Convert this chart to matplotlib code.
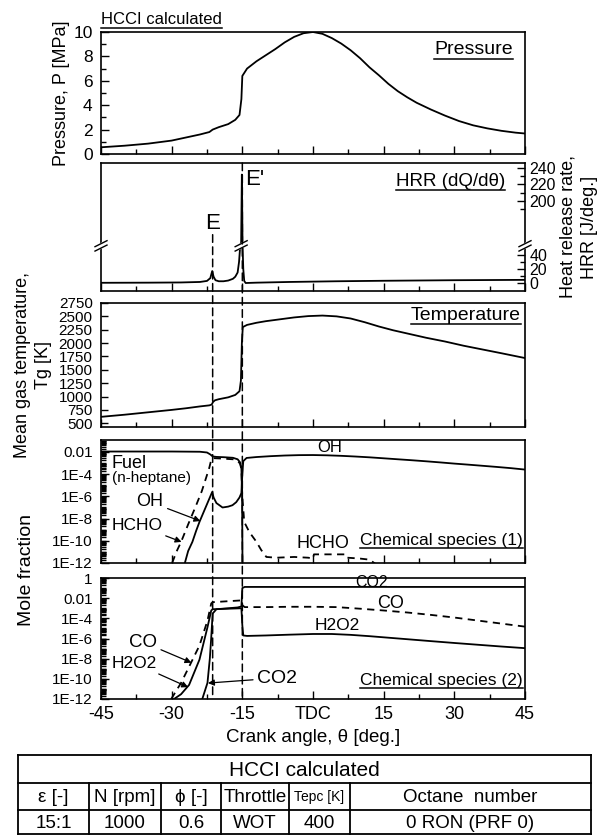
import numpy as np
import matplotlib.pyplot as plt
from matplotlib.patches import ConnectionPatch
from matplotlib.ticker import FixedLocator, FixedFormatter, LogLocator, NullFormatter, MultipleLocator

plt.rcParams['font.family'] = ['Liberation Sans', 'DejaVu Sans']
plt.rcParams['axes.linewidth'] = 1.2
plt.rcParams['xtick.direction'] = 'in'
plt.rcParams['ytick.direction'] = 'in'

W, H = 602, 835

# ignition events (crank angle, deg.)
theta_E = -21.3
theta_E2 = -15.0

x_major = [-45, -30, -15, 0, 15, 30, 45]
x_labels = ['-45', '-30', '-15', 'TDC', '15', '30', '45']

# pressure [MPa]
p_theta = [-45, -40, -35, -30, -27, -24, -22, -21.3, -20, -18, -16.5, -15.6, -15.2, -15, -14, -12, -10,
           -8, -6, -4, -2, 0, 2, 4, 6, 8, 10, 12, 14, 16, 18, 20, 22, 25, 28, 31, 34, 37, 40, 43, 45]
p_val = [0.55, 0.68, 0.85, 1.1, 1.35, 1.6, 1.8, 2.0, 2.2, 2.45, 2.8, 3.2, 4.5, 6.4, 7.0, 7.6, 8.1,
         8.6, 9.15, 9.6, 9.9, 10.0, 9.85, 9.5, 9.05, 8.5, 7.85, 7.1, 6.45, 5.75, 5.15, 4.65, 4.2,
         3.65, 3.15, 2.7, 2.35, 2.1, 1.9, 1.75, 1.68]

# heat release rate [J/deg.]
hrr_theta = [-45, -35, -28, -24, -22.5, -21.8, -21.4, -21.1, -20.7, -20, -19, -18, -17, -16.5, -16,
             -15.7, -15.45, -15.25, -15.1, -14.95, -14.8, -14.6, -14.3, -12, -5, 5, 15, 30, 45]
hrr_val = [0.3, 0.5, 0.8, 1.5, 3, 7, 17, 9, 4, 2.5, 2.5, 3.5, 6, 9, 15,
           30, 60, 150, 232, 100, 20, 3, 0, 0.5, 1.5, 2.5, 3.2, 4, 4.5]

# mean gas temperature [K]
t_theta = [-45, -40, -35, -30, -27, -24, -22, -21.5, -21.2, -20.8, -20, -18, -16.5, -15.6, -15.3, -15.1,
           -14.9, -14, -12, -10, -7, -4, -1, 2, 5, 8, 11, 14, 17, 20, 24, 28, 32, 36, 40, 45]
t_val = [620, 660, 705, 750, 780, 815, 835, 850, 900, 930, 950, 985, 1030, 1100, 1300, 2000,
         2300, 2340, 2380, 2410, 2445, 2480, 2505, 2515, 2500, 2460, 2390, 2310, 2240, 2180, 2100,
         2030, 1950, 1880, 1810, 1720]

# chemical species (1): mole fractions
fuel_theta = [-45, -30, -24, -22.5, -21.8, -21.3, -20.5, -19, -17, -16, -15.5, -15.2, -15.05, -14.95]
fuel_val = [1.1e-2, 1.1e-2, 1.05e-2, 9e-3, 6e-3, 4e-3, 3.6e-3, 3.4e-3, 3e-3, 2.2e-3, 1.2e-3, 4e-4, 1e-6, 1e-13]

oh_theta = [-27.2, -26.5, -25.6, -24.8, -24.1, -23.2, -22.5, -21.8, -21.4, -21.1, -20.5, -19.2, -18, -17.1,
            -16.3, -15.6, -15.2, -15.0, -14.8, -14.1, -12, -9, -6, -3, 0, 3, 6, 9, 12, 15, 18, 21, 24,
            27, 30, 33, 36, 39, 42, 45]
oh_val = [1e-12, 1.2e-11, 8e-11, 8e-10, 5e-9, 4e-8, 2e-7, 1e-6, 2.5e-6, 8e-7, 2.5e-7, 1e-7, 1.2e-7, 1.6e-7,
          3e-7, 8e-7, 2e-6, 1e-4, 1.5e-3, 2.9e-3, 3.5e-3, 4.2e-3, 4.8e-3, 5.2e-3, 5.3e-3, 5e-3, 4.5e-3,
          3.9e-3, 3.3e-3, 2.7e-3, 2.2e-3, 1.8e-3, 1.45e-3, 1.15e-3, 9e-4, 7.2e-4, 5.7e-4, 4.5e-4,
          3.5e-4, 2.6e-4]

hcho_theta = [-29.9, -29, -28, -26.5, -24.8, -23.6, -22.7, -22, -21.6, -21.3, -19, -17, -16, -15.5, -15.2,
              -15.0, -14.6, -13.5, -12, -11, -9.9, -7.8, -4, -1, 0, 0.2, 7, 7.3, 10, 12, 14]
hcho_val = [1e-12, 1e-11, 8e-11, 3e-9, 1.6e-7, 3e-6, 4.6e-5, 4e-4, 2e-3, 2.8e-3, 2.5e-3, 2.2e-3, 1.6e-3,
            9e-4, 3e-4, 1e-6, 5e-9, 6e-10, 8e-11, 1.5e-11, 3.5e-12, 3e-12, 3.5e-12, 3e-12, 2.5e-12,
            6e-12, 6e-12, 3e-12, 2.5e-12, 2e-12, 5e-13]

# chemical species (2): mole fractions
co2_theta = [-23.5, -22.4, -21.9, -21.6, -21.3, -20.5, -18, -16, -15.2, -15.0, -14.5, 0, 15, 30, 45]
co2_val = [1e-12, 4e-11, 1e-8, 1.3e-6, 3e-4, 8e-4, 1e-3, 1.2e-3, 1.5e-3, 0.1, 0.13, 0.13, 0.13, 0.13, 0.13]

co_theta = [-30.1, -28, -26.3, -24.1, -22.4, -21.6, -21.3, -18, -15.2, -15.0, -14.5, -10, -5, 0, 5, 10,
            15, 20, 25, 30, 35, 40, 45]
co_val = [1e-12, 4e-11, 1.6e-9, 2e-7, 6e-5, 3e-3, 4e-3, 5e-3, 6e-3, 2e-3, 1.3e-3, 1.3e-3, 1.4e-3,
          1.4e-3, 1.3e-3, 9e-4, 6e-4, 3.8e-4, 2.2e-4, 1.2e-4, 6e-5, 3e-5, 1.5e-5]

h2o2_theta = [-29.5, -28, -26.3, -24.1, -22.4, -21.6, -21.3, -18, -15.2, -15.0, -14.8, -14, -10, -5, 0,
              4, 8, 12, 16, 20, 25, 30, 35, 40, 45]
h2o2_val = [1e-12, 3e-12, 2.5e-11, 8e-9, 1.3e-5, 6e-4, 8e-4, 9e-4, 1e-3, 2e-5, 2e-6, 1.8e-6, 2e-6,
            2.4e-6, 2.8e-6, 2.8e-6, 2.3e-6, 1.7e-6, 1.2e-6, 8.5e-7, 5.5e-7, 3.6e-7, 2.4e-7, 1.6e-7, 1.1e-7]

# engine conditions table
table_title = "HCCI calculated"
table_head = ["ε [-]", "N [rpm]", "ϕ [-]", "Throttle", "Tepc [K]", "Octane  number"]
table_vals = ["15:1", "1000", "0.6", "WOT", "400", "0 RON (PRF 0)"]


fig = plt.figure(figsize=(W / 100, H / 100), dpi=100)


def panel(top, bottom):
    return fig.add_axes([101 / W, 1 - bottom / H, (525 - 101) / W, (bottom - top) / H])


def setup_x(ax, labels=False):
    ax.set_xlim(-45, 45)
    ax.xaxis.set_major_locator(FixedLocator(x_major))
    ax.xaxis.set_minor_locator(MultipleLocator(7.5))
    ax.tick_params(axis='x', which='major', length=6, width=1, top=False, labelbottom=labels,
                   labelsize=13, pad=5)
    ax.tick_params(axis='x', which='minor', length=3.5, width=1, top=False)
    if labels:
        ax.xaxis.set_major_formatter(FixedFormatter(x_labels))


ax_p = panel(32, 154)
ax_h = panel(163, 291)
ax_t = panel(303, 427)
ax_s1 = panel(440, 563)
ax_s2 = panel(578, 699)
for ax in (ax_p, ax_h, ax_t, ax_s1):
    setup_x(ax)
setup_x(ax_s2, labels=True)

# pressure
ax_p.plot(p_theta, p_val, color='k', lw=1.3)
ax_p.set_ylim(0, 10)
ax_p.yaxis.set_major_locator(MultipleLocator(2))
ax_p.yaxis.set_minor_locator(MultipleLocator(1))
ax_p.tick_params(axis='y', which='major', length=6, width=1, right=False, labelsize=12.5, pad=6)
ax_p.tick_params(axis='y', which='minor', length=3.5, width=1, right=False)

# heat release rate on a broken axis: 0-53 below the break, 146 and up above it
LOW_TOP, HIGH_BOT, HIGH_REF, HIGH_POS, HIGH_K = 53.0, 146.0, 200.0, 117.0, 1.18


def hrr_fwd(v):
    v = np.asarray(v, dtype=float)
    return np.where(v <= LOW_TOP, v,
                    np.where(v >= HIGH_BOT, HIGH_POS + (v - HIGH_REF) * HIGH_K, LOW_TOP))


def hrr_inv(d):
    d = np.asarray(d, dtype=float)
    return np.where(d <= LOW_TOP, d, HIGH_REF + (d - HIGH_POS) / HIGH_K)


ax_h.set_yscale('function', functions=(hrr_fwd, hrr_inv))
ax_h.plot(hrr_theta, hrr_val, color='k', lw=1.3)
ax_h.set_ylim(-11.4, 246)
ax_h.yaxis.set_major_locator(FixedLocator([0, 20, 40, 200, 220, 240]))
ax_h.yaxis.set_major_formatter(FixedFormatter(['0', '20', '40', '200', '220', '240']))
ax_h.yaxis.set_minor_locator(FixedLocator([10, 30, 50, 190, 210, 230]))
ax_h.yaxis.set_minor_formatter(NullFormatter())
ax_h.tick_params(axis='y', which='both', left=False, right=True, labelleft=False, labelright=True)
ax_h.tick_params(axis='y', which='major', length=6, width=1, labelsize=11.5, pad=3)
ax_h.tick_params(axis='y', which='minor', length=3.5, width=1)
xy_h = ax_h.get_xaxis_transform()
ax_h.text(theta_E, 0.53, "E", transform=xy_h, ha='center', va='center', fontsize=16)
ax_h.text(-14.4, 0.87, "E'", transform=xy_h, ha='left', va='center', fontsize=16)


def break_mark(ax, xc, yc):
    # "//" symbol across a spine or line, in axes fraction
    bb = ax.get_position()
    sx = 1 / (bb.width * W)
    sy = 1 / (bb.height * H)
    dx, dy = 6 * sx, 3 * sy
    ax.plot([xc - dx, xc + dx], [yc - dy, yc + dy], transform=ax.transAxes, color='w', lw=4,
            clip_on=False, zorder=5, solid_capstyle='butt')
    for off in (-2.2, 2.2):
        ax.plot([xc - dx, xc + dx], [yc - dy + off * sy, yc + dy + off * sy], transform=ax.transAxes,
                color='k', lw=1, clip_on=False, zorder=6)


lo, hi = ax_h.transScale.transform([[0, -11.4], [0, 246]])[:, 1]
yb = (LOW_TOP - lo) / (hi - lo)
break_mark(ax_h, 0, yb)
break_mark(ax_h, 1, yb)
break_mark(ax_h, (-15.25 + 45) / 90, yb)

# temperature
ax_t.plot(t_theta, t_val, color='k', lw=1.3)
ax_t.set_ylim(430, 2750)
ax_t.yaxis.set_major_locator(MultipleLocator(250))
ax_t.tick_params(axis='y', which='major', length=5, width=1, right=False, labelsize=11, pad=6)

# species panels
for ax, top in ((ax_s1, 0.12), (ax_s2, 1.0)):
    ax.set_yscale('log')
    ax.set_ylim(1e-12, top)
    ax.yaxis.set_minor_locator(LogLocator(base=10, subs=np.arange(1, 10), numticks=100))
    ax.yaxis.set_minor_formatter(NullFormatter())
    ax.tick_params(axis='y', which='major', length=6, width=1, right=False, labelsize=11, pad=6)
    ax.tick_params(axis='y', which='minor', length=3.5, width=1, right=False)

s1_ticks = [1e-2, 1e-4, 1e-6, 1e-8, 1e-10, 1e-12]
s1_labels = ['0.01', '1E-4', '1E-6', '1E-8', '1E-10', '1E-12']
ax_s1.yaxis.set_major_locator(FixedLocator(s1_ticks))
ax_s1.yaxis.set_major_formatter(FixedFormatter(s1_labels))
ax_s2.yaxis.set_major_locator(FixedLocator([1] + s1_ticks))
ax_s2.yaxis.set_major_formatter(FixedFormatter(['1'] + s1_labels))

ax_s1.plot(fuel_theta, fuel_val, color='k', lw=1.3)
ax_s1.plot(oh_theta, oh_val, color='k', lw=1.3)
ax_s1.plot(hcho_theta, hcho_val, color='k', lw=1.3, ls=(0, (4, 3)))

ax_s2.plot(co2_theta, co2_val, color='k', lw=1.3)
ax_s2.plot(h2o2_theta, h2o2_val, color='k', lw=1.3)
ax_s2.plot(co_theta, co_val, color='k', lw=1.3, ls=(0, (4, 3)))

arrow = dict(arrowstyle='-|>', color='k', lw=0.9, mutation_scale=9, shrinkA=1, shrinkB=0)
ax_s1.text(-42.7, 1e-3, "Fuel", ha='left', va='center', fontsize=13)
ax_s1.text(-42.7, 4.6e-5, "(n-heptane)", ha='left', va='center', fontsize=11)
ax_s1.annotate("OH", xy=(-23.9, 6e-9), xytext=(-34.6, 3.2e-7), ha='center', va='center',
               fontsize=13, arrowprops=arrow)
ax_s1.annotate("HCHO", xy=(-27.9, 8e-11), xytext=(-42.7, 2.6e-9), ha='left', va='center',
               fontsize=12.5, arrowprops=arrow)
ax_s1.text(3.6, 0.028, "OH", ha='center', va='center', fontsize=12)
ax_s1.text(2.1, 6.3e-11, "HCHO", ha='center', va='center', fontsize=13)

ax_s2.annotate("CO", xy=(-25.8, 4e-9), xytext=(-36.1, 4.4e-7), ha='center', va='center',
               fontsize=13.5, arrowprops=arrow)
ax_s2.annotate("H2O2", xy=(-26.5, 1.5e-11), xytext=(-42.7, 3.6e-9), ha='left', va='center',
               fontsize=12.5, arrowprops=arrow)
ax_s2.annotate("CO2", xy=(-22.3, 3.8e-11), xytext=(-7.6, 1.2e-10), ha='center', va='center',
               fontsize=14, arrowprops=arrow)
ax_s2.text(12.5, 0.38, "CO2", ha='center', va='center', fontsize=11.5)
ax_s2.text(16.4, 3.2e-3, "CO", ha='center', va='center', fontsize=13)
ax_s2.text(5.1, 2.1e-5, "H2O2", ha='center', va='center', fontsize=12.5)

# dashed lines marking E and E' through the lower panels
for th, y0 in ((theta_E, 0.44), (theta_E2, 1.0)):
    con = ConnectionPatch(xyA=(th, y0), coordsA=xy_h,
                          xyB=(th, 1e-12), coordsB='data', axesB=ax_s2,
                          color='k', lw=1.1, ls=(0, (5, 3)))
    fig.add_artist(con)

# overlay in pixel units for labels and the table
ov = fig.add_axes([0, 0, 1, 1])
ov.set_xlim(0, W)
ov.set_ylim(H, 0)
ov.axis('off')

ov.text(62, 93, "Pressure, P [MPa]", rotation=90, ha='center', va='center', fontsize=13)
ov.text(568, 227, "Heat release rate,", rotation=90, ha='center', va='center', fontsize=13)
ov.text(590, 227, "HRR [J/deg.]", rotation=90, ha='center', va='center', fontsize=13)
ov.text(23, 365, "Mean gas temperature,", rotation=90, ha='center', va='center', fontsize=13)
ov.text(43, 365, "Tg [K]", rotation=90, ha='center', va='center', fontsize=13)
ov.text(27, 570, "Mole fraction", rotation=90, ha='center', va='center', fontsize=14)
ov.text(313, 737, "Crank angle, θ [deg.]", ha='center', va='center', fontsize=13.5)

ul_texts = [
    ov.text(101, 20, "HCCI calculated", ha='left', va='center', fontsize=12),
    ov.text(513, 50, "Pressure", ha='right', va='center', fontsize=14),
    ov.text(505, 181, "HRR (dQ/dθ)", ha='right', va='center', fontsize=13.5),
    ov.text(521, 315, "Temperature", ha='right', va='center', fontsize=14),
    ov.text(523, 540, "Chemical species (1)", ha='right', va='center', fontsize=12.5),
    ov.text(523, 680, "Chemical species (2)", ha='right', va='center', fontsize=12.5),
]

# table
col_edges = [18, 89, 161, 221, 289, 350, 591]
row_edges = [755, 783, 810, 834]
tkw = dict(color='k', lw=1.3)
for y in row_edges:
    ov.plot([col_edges[0], col_edges[-1]], [y, y], **tkw)
for x in (col_edges[0], col_edges[-1]):
    ov.plot([x, x], [row_edges[0], row_edges[-1]], **tkw)
for x in col_edges[1:-1]:
    ov.plot([x, x], [row_edges[1], row_edges[-1]], **tkw)
ov.text((col_edges[0] + col_edges[-1]) / 2, (row_edges[0] + row_edges[1]) / 2 + 1, table_title,
        ha='center', va='center', fontsize=15)
for i, (hd, vl) in enumerate(zip(table_head, table_vals)):
    xc = (col_edges[i] + col_edges[i + 1]) / 2
    ov.text(xc, (row_edges[1] + row_edges[2]) / 2 + 1, hd, ha='center', va='center',
            fontsize=10 if hd.startswith('Tepc') else 13.5)
    ov.text(xc, (row_edges[2] + row_edges[3]) / 2 + 1, vl, ha='center', va='center', fontsize=13.5)

fig.canvas.draw()
renderer = fig.canvas.get_renderer()
for t in ul_texts:
    bb = t.get_window_extent(renderer)
    y = H - bb.y0 + 0.5
    ov.plot([bb.x0, bb.x1], [y, y], color='k', lw=1.1)

fig.savefig('out.png', dpi=100)
